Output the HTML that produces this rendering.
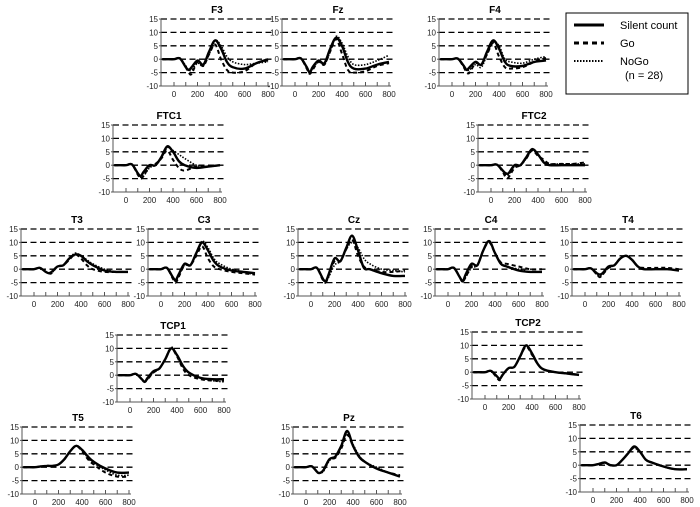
<!DOCTYPE html>
<html><head><meta charset="utf-8"><style>
body{margin:0;background:#fff}
svg{display:block;font-family:"Liberation Sans",Arial,sans-serif}
</style></head><body>
<svg id="chart" width="700" height="507" viewBox="0 0 700 507">
<g>
<rect x="566" y="13" width="122" height="81" fill="#fff" stroke="#000" stroke-width="1"/>
<line x1="574" y1="25" x2="604" y2="25" stroke="#000" stroke-width="3"/>
<text x="620" y="29" font-size="11">Silent count</text>
<line x1="574" y1="43" x2="604" y2="43" stroke="#000" stroke-width="3" stroke-dasharray="5,4"/>
<text x="620" y="47" font-size="11">Go</text>
<line x1="574" y1="61" x2="604" y2="61" stroke="#000" stroke-width="2" stroke-dasharray="1.5,1.5"/>
<text x="620" y="65" font-size="11">NoGo</text>
<text x="625" y="79" font-size="11">(n = 28)</text>
</g>
</svg>
<script>
const times=[-100,-50,0,50,100,125,150,200,250,300,350,400,450,500,600,700,800];
const yTicks=[15,10,5,0,-5,-10];
const xTickLabels=[0,200,400,600,800];
const panelNames=["F3","Fz","F4","FTC1","FTC2","T3","C3","Cz","C4","T4","TCP1","TCP2","T5","Pz","T6"];
const silent={
F3:[0,0,0,0.3,-3,-4,-3,-0.5,-2,3,7,4,-1,-3,-3.5,-1.5,0],
Fz:[0,0,0,0.3,-3,-5,-3,-0.5,-1.5,4,8,5,-1,-3.5,-3.5,-2,-1],
F4:[0,0,0,0.2,-2.5,-4,-3,-1,-2,3,7,4,-1,-2.5,-2.5,-1,-0.5],
FTC1:[0,0,0,0.3,-3,-4,-2.5,0,0,3,7,5,1.5,0,-1,-0.5,0],
FTC2:[0,0,0,0.2,-2,-3,-3,0,0,3,6,4,1,0,0,0,0],
T3:[0,0,0,0.5,-1,-1.5,-1,1,1.5,4,5.5,5,3,1.5,-0.5,-1,-1],
C3:[0,0,0,0.5,-3,-4,-2,2,1.5,6,10,7,3,1,-0.5,-1,-1.5],
Cz:[0,0,0,0.5,-3.5,-4.5,-2,4,3,8,12.5,7,0.5,0,-1.5,-2.5,-2.5],
C4:[0,0,0,0.5,-3,-4.5,-2,2,1.5,7,10.5,6,2,1,-0.5,-1,-1],
T4:[0,0,0,0.3,-1.5,-2,-1.5,1,1.5,4,5,3.5,1,0,0,0,-0.5],
TCP1:[0,0,0,0.5,-1.5,-2.5,-1,1.5,2.5,6,10,7.5,3.5,1,-1,-1.5,-1.5],
TCP2:[0,0,0,0.5,-1.5,-2.5,-1,1.5,2,6,10,7,3,1,0,-0.5,-1],
T5:[0,0,0,0.3,0.5,0.5,0.5,1,3,6,8,6.5,4,2,-0.5,-2,-2],
Pz:[0,0,0,0.3,-2,-2,-1,3,4,8,13.5,8,4,2,-0.5,-2,-3.5],
T6:[0,0,0,0.5,1,0.5,0,0,2,4.5,7,5,2,1,-0.5,-1.5,-1.5]};
const go={
F3:[0,0,0,0.3,-3,-5,-5.5,-1,-2.5,2,5.5,0,-4,-5,-4.5,-1.5,-0.5],
Fz:[0,0,0,0.3,-3.5,-5.5,-4,-1,-2,3,7.5,2,-4,-5,-4.5,-2.5,-1.5],
F4:[0,0,0,0.2,-3,-5,-5,-1.5,-2,2,6,1,-3,-3.5,-3,-1,0.5],
FTC1:[0,0,0,0.3,-3.5,-5,-4,-0.5,0.5,2.5,5.5,2,-1,-2,-0.5,-0.5,0],
FTC2:[0,0,0,0.2,-2.5,-4.5,-4.5,-1,0,2.5,5.5,3.5,2,0.5,0.5,0.5,1],
T3:[0,0,0,0.5,-1,-1.5,-1.5,1,1.5,3.5,5.5,4,1.5,0,-1,-1,-1],
C3:[0,0,0,0.5,-3.5,-5,-3,1.5,1.5,5,8.5,4,1,0,-1,-1.5,-2],
Cz:[0,0,0,0.5,-4,-5,-2.5,3,3,7.5,11,5,1,0,-1,-1,-0.5],
C4:[0,0,0,0.5,-3,-4.5,-3,1,1.5,7,10,6,2.5,2,1,0,0],
T4:[0,0,0,0.3,-2,-3,-2,0.5,1.5,4,5,3.5,1,0.5,0.5,0.5,0],
TCP1:[0,0,0,0.5,-1.5,-2.5,-1.5,1,2.5,6,10,7,2.5,0,-1.5,-2,-2],
TCP2:[0,0,0,0.5,-2,-3,-1,1.5,2,6,9.5,6.5,3,1,0,-0.5,-1],
T5:[0,0,0,0.3,0.5,0.5,0.5,1,3,6,8,6,3,1,-2,-3.5,-3.5],
Pz:[0,0,0,0.3,-2,-2,-1,3,3.5,7,12,8,4,2,-0.5,-2,-3],
T6:[0,0,0,0.5,1,0.5,0,0,2,4.5,6.5,5,2,1,-0.5,-1.5,-1.5]};
const nogo={
F3:[0,0,0,0.3,-2.5,-4,-4,-1.5,-2.5,2,7,5,1,-1,-2,-1.5,-1],
Fz:[0,0,0,0.3,-3,-4.5,-3.5,-1,-2,3,8.5,6,1,-2,-2,-0.5,1.5],
F4:[0,0,0,0.2,-2.5,-4,-4,-2,-3,2,6.5,5,0,-1,-1.5,0,1],
FTC1:[0,0,0,0.3,-3,-4.5,-4,-1,0,2.5,6.5,5.5,4,2.5,0,-0.5,0],
FTC2:[0,0,0,0.2,-2,-3.5,-3.5,-0.5,0,2.5,5.5,4,1.5,0.5,0.5,0.5,0.5],
T3:[0,0,0,0.5,-1,-1.5,-1.5,1,1.5,4,6,5,3.5,2,0,-1,-1],
C3:[0,0,0,0.5,-3,-4.5,-2.5,1.5,1.5,6,10.5,8,4,2,0,-1,-2],
Cz:[0,0,0,0.5,-3.5,-4.5,-3,1.5,3,7.5,10,8,4,2,0,-0.5,-1],
C4:[0,0,0,0.5,-3,-4,-3,0.5,1.5,7,10.5,6,2,1,0,-1,-1],
T4:[0,0,0,0.3,-2,-2.5,-2,0.5,1.5,4,5,3.5,1,0,0,0,-0.5],
TCP1:[0,0,0,0.5,-1.5,-2.5,-1.5,1,2.5,6,10.5,7.5,3.5,1,-1,-2,-2.5],
TCP2:[0,0,0,0.5,-1.5,-2.5,-1,1.5,2,6,10,7,3,1,0,-0.5,-1],
T5:[0,0,0,0.3,0.5,0.5,0.5,1,3,6,8,6.5,3.5,1.5,-1,-3,-3],
Pz:[0,0,0,0.3,-2,-2,-1.5,2.5,4,7.5,13,8.5,4.5,2,0,-2,-3.5],
T6:[0,0,0,0.5,1,0.5,0,0,2,4.5,6.5,5,2,1,-0.5,-1.5,-1.5]};
const layout={F3:[161,19],Fz:[282,19],F4:[439,19],FTC1:[113,125],FTC2:[478,125],
T3:[21,229],C3:[148,229],Cz:[298,229],C4:[435,229],T4:[572,229],
TCP1:[117,335],TCP2:[472,332],T5:[22,427],Pz:[293,427],T6:[580,425]};
const NS="http://www.w3.org/2000/svg";
const svg=document.getElementById('chart');
function mk(tag,attrs,parent){const e=document.createElementNS(NS,tag);for(const k in attrs)e.setAttribute(k,attrs[k]);parent.appendChild(e);return e;}
function smooth(pts){
  let d='M'+pts[0][0].toFixed(1)+','+pts[0][1].toFixed(1);
  for(let i=0;i<pts.length-1;i++){
    const p0=pts[Math.max(0,i-1)],p1=pts[i],p2=pts[i+1],p3=pts[Math.min(pts.length-1,i+2)];
    const c1x=p1[0]+(p2[0]-p0[0])/6,c1y=p1[1]+(p2[1]-p0[1])/6;
    const c2x=p2[0]-(p3[0]-p1[0])/6,c2y=p2[1]-(p3[1]-p1[1])/6;
    d+='C'+c1x.toFixed(1)+','+c1y.toFixed(1)+' '+c2x.toFixed(1)+','+c2y.toFixed(1)+' '+p2[0].toFixed(1)+','+p2[1].toFixed(1);
  }
  return d;
}
const H=67,W=112,PX=0.1175;
panelNames.forEach(name=>{
  const [ax,top]=layout[name];
  const g=mk('g',{},svg);
  
  
  const xs=t=>ax+13+t*PX;
  const ys=v=>top+(15-v)*H/25;
  const title=mk('text',{x:ax+W/2,y:top-6,'text-anchor':'middle','font-size':10,'font-weight':'bold'},g);
  title.textContent=name;
  
  
  yTicks.forEach(v=>{
    const lb=mk('text',{x:ax-3,y:ys(v)+3,'text-anchor':'end','font-size':8,fill:'#222'},g);
    lb.textContent=v;
    
    
    mk('line',{x1:ax-2,x2:ax,y1:ys(v),y2:ys(v),stroke:'#555','stroke-width':1},g);
    if(v>-10){
      const gl=mk('line',{x1:ax,x2:ax+W,y1:ys(v),y2:ys(v),stroke:'#000','stroke-width':1.3,'stroke-dasharray':'6,3.5'},g);
      
      
    }
  });
  mk('line',{x1:ax,x2:ax,y1:top,y2:ys(-10),stroke:'#555','stroke-width':1},g);
  mk('line',{x1:ax,x2:ax+W-3,y1:ys(-10),y2:ys(-10),stroke:'#555','stroke-width':1},g);
  for(let t=0;t<=800;t+=100){mk('line',{x1:xs(t),x2:xs(t),y1:ys(-10),y2:ys(-10)-4,stroke:'#555','stroke-width':1},g);}
  xTickLabels.forEach(t=>{
    const lb=mk('text',{x:xs(t),y:ys(-10)+11,'text-anchor':'middle','font-size':8,fill:'#222'},g);
    lb.textContent=t;
    
    
  });
  const series=[[silent[name],{stroke:'#000','stroke-width':2.4},'silent-line'],
                [go[name],{stroke:'#000','stroke-width':2,'stroke-dasharray':'4,3'},'go-line'],
                [nogo[name],{stroke:'#000','stroke-width':1.6,'stroke-dasharray':'1.5,1.5'},'nogo-line']];
  series.forEach(([vals,st,nm])=>{
    const pts=vals.map((v,i)=>[xs(times[i]),ys(v)]);
    const p=mk('path',Object.assign({d:smooth(pts),fill:'none','stroke-linejoin':'round'},st),g);
    
    
  });
});
</script>
</body></html>
